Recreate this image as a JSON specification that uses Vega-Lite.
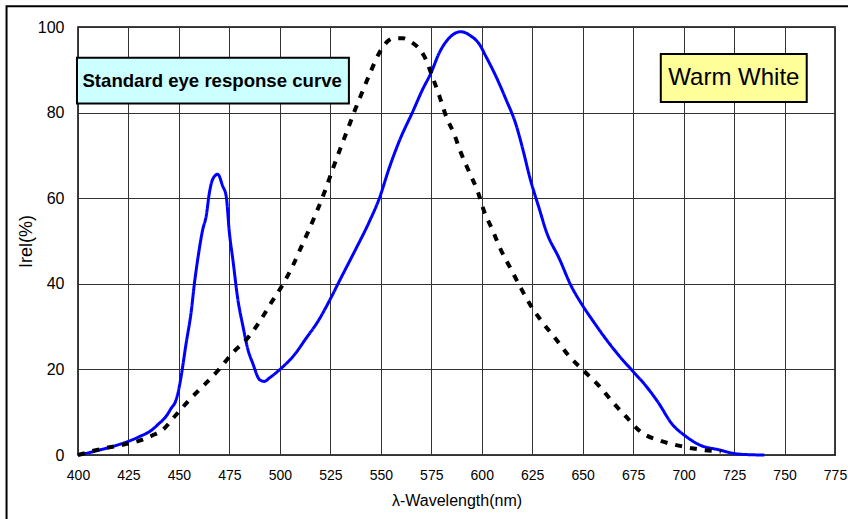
{
  "$schema": "https://vega.github.io/schema/vega-lite/v6.json",
  "width": 757,
  "height": 428,
  "autosize": {"type": "none"},
  "padding": {"left": 78, "top": 27, "right": 13, "bottom": 64},
  "background": "white",
  "config": {
    "font": "Liberation Sans",
    "view": {"stroke": "black", "strokeWidth": 1.5},
    "axis": {
      "domain": false,
      "ticks": false,
      "tickSize": 0,
      "grid": true,
      "gridColor": "#333333",
      "gridWidth": 1,
      "gridOpacity": 1,
      "labelColor": "black",
      "titleColor": "black",
      "labelFont": "Liberation Sans",
      "titleFont": "Liberation Sans",
      "titleFontWeight": "normal"
    }
  },
  "datasets": {
    "curves": [
      {"nm": 400, "irel": 0, "series": "Warm White"},
      {"nm": 405, "irel": 0.5, "series": "Warm White"},
      {"nm": 410, "irel": 1.1, "series": "Warm White"},
      {"nm": 415, "irel": 1.7, "series": "Warm White"},
      {"nm": 420, "irel": 2.4, "series": "Warm White"},
      {"nm": 425, "irel": 3.2, "series": "Warm White"},
      {"nm": 430, "irel": 4.2, "series": "Warm White"},
      {"nm": 436.7, "irel": 5.9, "series": "Warm White"},
      {"nm": 440, "irel": 7.3, "series": "Warm White"},
      {"nm": 443.6, "irel": 9.0, "series": "Warm White"},
      {"nm": 446, "irel": 10.8, "series": "Warm White"},
      {"nm": 448.6, "irel": 12.9, "series": "Warm White"},
      {"nm": 450.2, "irel": 16, "series": "Warm White"},
      {"nm": 451.1, "irel": 18.4, "series": "Warm White"},
      {"nm": 453.6, "irel": 26.2, "series": "Warm White"},
      {"nm": 456, "irel": 33.2, "series": "Warm White"},
      {"nm": 457.7, "irel": 40.2, "series": "Warm White"},
      {"nm": 459.3, "irel": 45.7, "series": "Warm White"},
      {"nm": 461.8, "irel": 52.7, "series": "Warm White"},
      {"nm": 463.5, "irel": 55.8, "series": "Warm White"},
      {"nm": 465.1, "irel": 61.3, "series": "Warm White"},
      {"nm": 466.7, "irel": 64.4, "series": "Warm White"},
      {"nm": 469.2, "irel": 65.6, "series": "Warm White"},
      {"nm": 471.7, "irel": 62.8, "series": "Warm White"},
      {"nm": 473.4, "irel": 60.5, "series": "Warm White"},
      {"nm": 475, "irel": 51.9, "series": "Warm White"},
      {"nm": 476.7, "irel": 45.7, "series": "Warm White"},
      {"nm": 479.2, "irel": 36.3, "series": "Warm White"},
      {"nm": 481.7, "irel": 30.1, "series": "Warm White"},
      {"nm": 484.2, "irel": 24.6, "series": "Warm White"},
      {"nm": 486.5, "irel": 21.5, "series": "Warm White"},
      {"nm": 490, "irel": 17.6, "series": "Warm White"},
      {"nm": 492.3, "irel": 17.2, "series": "Warm White"},
      {"nm": 494.8, "irel": 18.0, "series": "Warm White"},
      {"nm": 499.8, "irel": 19.9, "series": "Warm White"},
      {"nm": 508, "irel": 23.9, "series": "Warm White"},
      {"nm": 512, "irel": 26.6, "series": "Warm White"},
      {"nm": 519.6, "irel": 31.8, "series": "Warm White"},
      {"nm": 524.5, "irel": 36.0, "series": "Warm White"},
      {"nm": 530.3, "irel": 41.4, "series": "Warm White"},
      {"nm": 537.7, "irel": 48.2, "series": "Warm White"},
      {"nm": 544.3, "irel": 54.5, "series": "Warm White"},
      {"nm": 549.3, "irel": 60, "series": "Warm White"},
      {"nm": 554.2, "irel": 67.1, "series": "Warm White"},
      {"nm": 559.2, "irel": 73.4, "series": "Warm White"},
      {"nm": 565.8, "irel": 80.2, "series": "Warm White"},
      {"nm": 570.7, "irel": 85.4, "series": "Warm White"},
      {"nm": 574.9, "irel": 89.3, "series": "Warm White"},
      {"nm": 579, "irel": 94, "series": "Warm White"},
      {"nm": 584, "irel": 97.5, "series": "Warm White"},
      {"nm": 589.7, "irel": 98.9, "series": "Warm White"},
      {"nm": 594.6, "irel": 97.9, "series": "Warm White"},
      {"nm": 598.8, "irel": 96.0, "series": "Warm White"},
      {"nm": 602, "irel": 93.2, "series": "Warm White"},
      {"nm": 607, "irel": 88.5, "series": "Warm White"},
      {"nm": 612, "irel": 83.1, "series": "Warm White"},
      {"nm": 617.1, "irel": 77.0, "series": "Warm White"},
      {"nm": 619.6, "irel": 72.8, "series": "Warm White"},
      {"nm": 624.3, "irel": 64, "series": "Warm White"},
      {"nm": 628.4, "irel": 57.7, "series": "Warm White"},
      {"nm": 632, "irel": 52.2, "series": "Warm White"},
      {"nm": 638.4, "irel": 45.9, "series": "Warm White"},
      {"nm": 644.2, "irel": 39.6, "series": "Warm White"},
      {"nm": 650, "irel": 34.9, "series": "Warm White"},
      {"nm": 655, "irel": 31.4, "series": "Warm White"},
      {"nm": 661.5, "irel": 27.1, "series": "Warm White"},
      {"nm": 668.2, "irel": 23.1, "series": "Warm White"},
      {"nm": 674.8, "irel": 19.6, "series": "Warm White"},
      {"nm": 681.4, "irel": 16.1, "series": "Warm White"},
      {"nm": 687.1, "irel": 12.5, "series": "Warm White"},
      {"nm": 694.5, "irel": 7.1, "series": "Warm White"},
      {"nm": 701, "irel": 4.4, "series": "Warm White"},
      {"nm": 707.7, "irel": 2.4, "series": "Warm White"},
      {"nm": 717.6, "irel": 1.2, "series": "Warm White"},
      {"nm": 725.8, "irel": 0.3, "series": "Warm White"},
      {"nm": 734, "irel": 0.05, "series": "Warm White"},
      {"nm": 740, "irel": 0, "series": "Warm White"},
      {"nm": 400, "irel": 0, "series": "Eye response"},
      {"nm": 402.4, "irel": 0.3, "series": "Eye response"},
      {"nm": 407, "irel": 0.9, "series": "Eye response"},
      {"nm": 412.3, "irel": 1.5, "series": "Eye response"},
      {"nm": 422.2, "irel": 2.4, "series": "Eye response"},
      {"nm": 432, "irel": 3.6, "series": "Eye response"},
      {"nm": 437, "irel": 4.6, "series": "Eye response"},
      {"nm": 442, "irel": 5.9, "series": "Eye response"},
      {"nm": 448.6, "irel": 9.4, "series": "Eye response"},
      {"nm": 455.2, "irel": 12.9, "series": "Eye response"},
      {"nm": 462.6, "irel": 16.4, "series": "Eye response"},
      {"nm": 470, "irel": 20.1, "series": "Eye response"},
      {"nm": 476.7, "irel": 23.9, "series": "Eye response"},
      {"nm": 484.2, "irel": 27.4, "series": "Eye response"},
      {"nm": 490, "irel": 31.2, "series": "Eye response"},
      {"nm": 495.6, "irel": 35.5, "series": "Eye response"},
      {"nm": 501.4, "irel": 39.8, "series": "Eye response"},
      {"nm": 506.3, "irel": 44.1, "series": "Eye response"},
      {"nm": 510.5, "irel": 48.5, "series": "Eye response"},
      {"nm": 514.6, "irel": 52.8, "series": "Eye response"},
      {"nm": 519, "irel": 57.7, "series": "Eye response"},
      {"nm": 522.9, "irel": 62.4, "series": "Eye response"},
      {"nm": 526.1, "irel": 66.7, "series": "Eye response"},
      {"nm": 529.8, "irel": 71.4, "series": "Eye response"},
      {"nm": 533.6, "irel": 76.1, "series": "Eye response"},
      {"nm": 537.2, "irel": 80.6, "series": "Eye response"},
      {"nm": 541, "irel": 85.0, "series": "Eye response"},
      {"nm": 545.1, "irel": 89.7, "series": "Eye response"},
      {"nm": 549.3, "irel": 94.0, "series": "Eye response"},
      {"nm": 553, "irel": 96.5, "series": "Eye response"},
      {"nm": 556.7, "irel": 97.4, "series": "Eye response"},
      {"nm": 561, "irel": 97.4, "series": "Eye response"},
      {"nm": 565, "irel": 96.5, "series": "Eye response"},
      {"nm": 568.5, "irel": 95.2, "series": "Eye response"},
      {"nm": 571.5, "irel": 93.2, "series": "Eye response"},
      {"nm": 575.7, "irel": 88.2, "series": "Eye response"},
      {"nm": 579, "irel": 83.9, "series": "Eye response"},
      {"nm": 582.3, "irel": 79.2, "series": "Eye response"},
      {"nm": 586.4, "irel": 74.9, "series": "Eye response"},
      {"nm": 589.7, "irel": 70.6, "series": "Eye response"},
      {"nm": 594, "irel": 65.9, "series": "Eye response"},
      {"nm": 598, "irel": 61.6, "series": "Eye response"},
      {"nm": 601.2, "irel": 56.9, "series": "Eye response"},
      {"nm": 605.3, "irel": 52.6, "series": "Eye response"},
      {"nm": 609.5, "irel": 47.9, "series": "Eye response"},
      {"nm": 614.4, "irel": 43.5, "series": "Eye response"},
      {"nm": 619.4, "irel": 39, "series": "Eye response"},
      {"nm": 624.3, "irel": 34.9, "series": "Eye response"},
      {"nm": 630.1, "irel": 31, "series": "Eye response"},
      {"nm": 636.7, "irel": 27.1, "series": "Eye response"},
      {"nm": 643.3, "irel": 23.1, "series": "Eye response"},
      {"nm": 650.7, "irel": 19.6, "series": "Eye response"},
      {"nm": 658.2, "irel": 16.1, "series": "Eye response"},
      {"nm": 664.8, "irel": 12.4, "series": "Eye response"},
      {"nm": 671.4, "irel": 9.0, "series": "Eye response"},
      {"nm": 678.8, "irel": 5.4, "series": "Eye response"},
      {"nm": 688.7, "irel": 3.3, "series": "Eye response"},
      {"nm": 699.4, "irel": 2.0, "series": "Eye response"},
      {"nm": 709.3, "irel": 1.2, "series": "Eye response"},
      {"nm": 718.4, "irel": 0.8, "series": "Eye response"}
    ],
    "one": [{}]
  },
  "layer": [
    {
      "data": {"name": "curves"},
      "mark": {"type": "line", "strokeCap": "butt", "interpolate": "monotone"},
      "encoding": {
        "x": {
          "field": "nm", "type": "quantitative",
          "scale": {"domain": [400, 775], "nice": false, "zero": false},
          "axis": {
            "values": [400, 425, 450, 475, 500, 525, 550, 575, 600, 625, 650, 675, 700, 725, 750, 775],
            "title": "λ-Wavelength(nm)",
            "labelFontSize": 14,
            "labelPadding": 13,
            "titleFontSize": 16,
            "titlePadding": 10,
            "labelFlush": false
          }
        },
        "y": {
          "field": "irel", "type": "quantitative",
          "scale": {"domain": [0, 100], "nice": false},
          "axis": {
            "values": [0, 20, 40, 60, 80, 100],
            "title": "Irel(%)",
            "labelFontSize": 16,
            "labelPadding": 14,
            "titleFontSize": 18,
            "titlePadding": 2
          }
        },
        "color": {
          "field": "series", "type": "nominal",
          "scale": {"domain": ["Warm White", "Eye response"], "range": ["#0000FF", "#000000"]},
          "legend": null
        },
        "strokeDash": {
          "field": "series", "type": "nominal",
          "scale": {"domain": ["Warm White", "Eye response"], "range": [[1, 0], [7, 8]]},
          "legend": null
        },
        "strokeWidth": {
          "field": "series", "type": "nominal",
          "scale": {"domain": ["Warm White", "Eye response"], "range": [3, 4]},
          "legend": null
        },
        "order": {"field": "nm", "type": "quantitative"}
      }
    },
    {
      "data": {"name": "one"},
      "mark": {"type": "rect", "fill": "#CCFFFF", "stroke": "black", "strokeWidth": 2},
      "encoding": {
        "x": {"datum": 399.5},
        "x2": {"datum": 534.2},
        "y": {"datum": 92.8},
        "y2": {"datum": 82.1}
      }
    },
    {
      "data": {"name": "one"},
      "mark": {"type": "text", "text": "Standard eye response curve", "fontSize": 18.6, "fontWeight": "bold", "align": "left", "baseline": "middle", "color": "black"},
      "encoding": {
        "x": {"datum": 402.2},
        "y": {"datum": 87.4}
      }
    },
    {
      "data": {"name": "one"},
      "mark": {"type": "rect", "fill": "#FFFF99", "stroke": "black", "strokeWidth": 2},
      "encoding": {
        "x": {"datum": 688.7},
        "x2": {"datum": 761},
        "y": {"datum": 93.7},
        "y2": {"datum": 82.5}
      }
    },
    {
      "data": {"name": "one"},
      "mark": {"type": "text", "text": "Warm White", "fontSize": 24, "align": "center", "baseline": "middle", "color": "black"},
      "encoding": {
        "x": {"datum": 724.9},
        "y": {"datum": 88.1}
      }
    },
    {
      "data": {"name": "one"},
      "mark": {"type": "rect", "fill": "transparent", "stroke": "black", "strokeWidth": 2, "clip": false},
      "encoding": {
        "x": {"datum": 364.6},
        "x2": {"datum": 786},
        "y": {"datum": 104.85},
        "y2": {"datum": -20}
      }
    }
  ]
}
